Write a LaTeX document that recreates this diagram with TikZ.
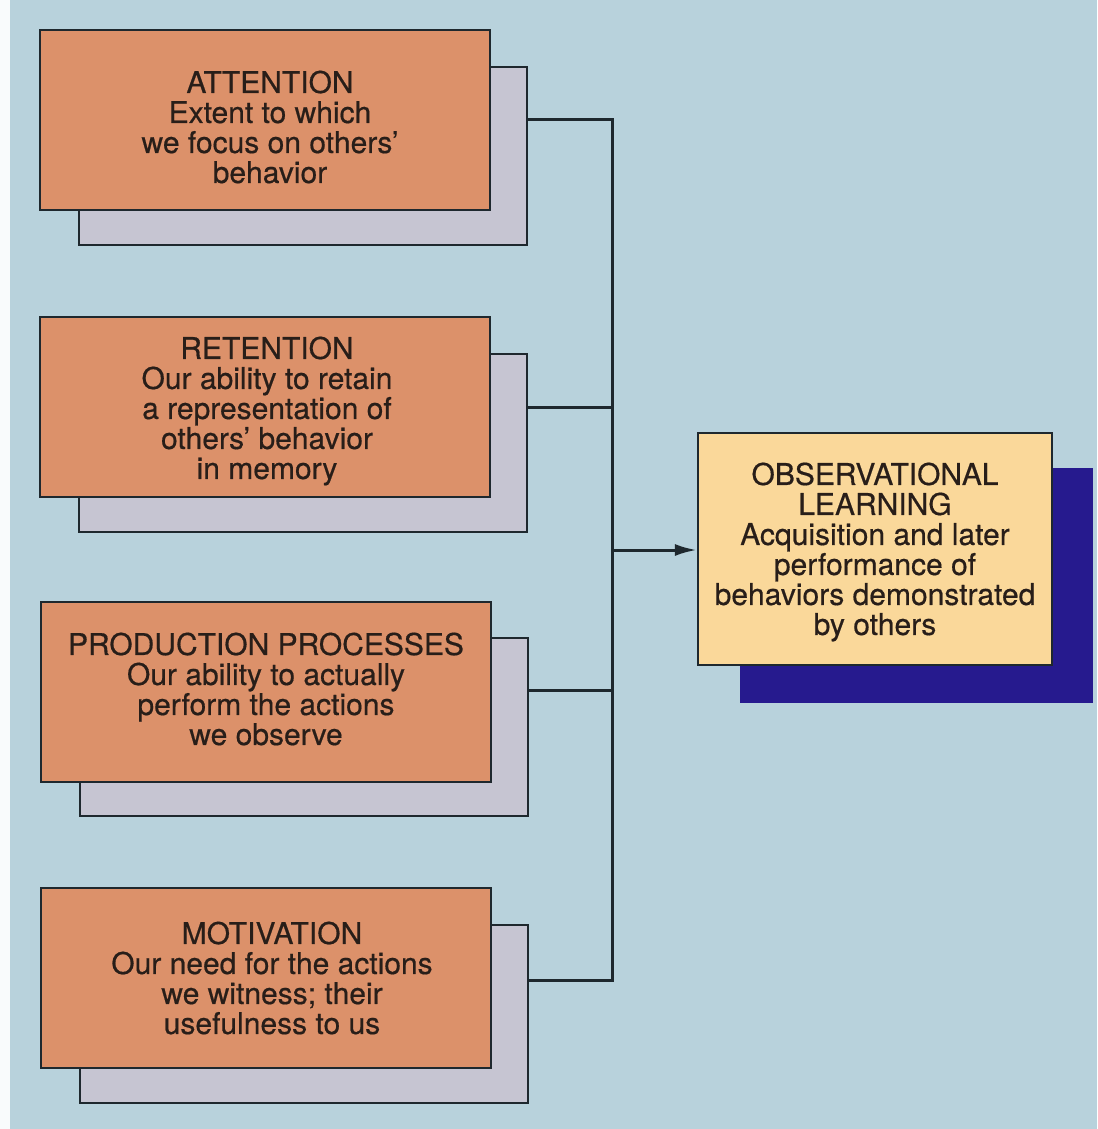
\documentclass[tikz,border=0pt]{standalone}
\usepackage{fontspec}
\setmainfont{TeX Gyre Heros}[FakeBold=0.5]
\usetikzlibrary{arrows.meta}
\definecolor{bgblue}{RGB}{184,210,220}
\definecolor{salmon}{RGB}{220,145,106}
\definecolor{backgray}{RGB}{198,197,210}
\definecolor{peach}{RGB}{250,216,154}
\definecolor{navy}{RGB}{38,26,142}
\definecolor{inkline}{RGB}{30,40,46}
\definecolor{inktext}{RGB}{40,30,25}
\tikzset{
  frontbox/.style={draw=inkline, line width=2.2pt, fill=salmon, minimum width=450pt, minimum height=180pt, inner sep=0pt},
  boxtext/.style={align=center, text=inktext, inner sep=0pt, font=\fontsize{30}{30}\selectfont},
  backbox/.style={draw=inkline, line width=2.2pt, fill=backgray, minimum width=448pt, minimum height=178pt, inner sep=0pt},
  obsbox/.style={draw=inkline, line width=2.2pt, fill=peach, minimum width=354pt, minimum height=232pt, inner sep=0pt},
  obsback/.style={draw=navy, line width=1pt, fill=navy, minimum width=352pt, minimum height=234pt, inner sep=0pt},
  conn/.style={draw=inkline, line width=3pt},
  arr/.style={conn, -{Latex[length=22pt,width=12pt]}}
}
\begin{document}
\begin{tikzpicture}[x=1pt,y=-1pt]
\useasboundingbox (0,0) rectangle (1097,1129);
\fill[bgblue] (0,0) rectangle (1097,1129);
\fill[white!92!bgblue] (0,0) rectangle (10,1129);

% back boxes
\node[backbox] (b1back) at (303,156) {};
\node[backbox] (b2back) at (303,443) {};
\node[backbox] (b3back) at (304,727) {};
\node[backbox] (b4back) at (304,1014) {};
\node[obsback] (obsb) at (916,585) {};

% front boxes
\node[frontbox] (att) at (265,120) {};
\node[frontbox] (ret) at (265,407) {};
\node[frontbox] (prod) at (266,692) {};
\node[frontbox] (mot) at (266,978) {};
\node[obsbox] (obs) at (875,549) {};

% texts
\node[boxtext] (att-t) at ([xshift=5pt,yshift=-7pt]att.center) {ATTENTION\\Extent to which\\we focus on others'\\behavior};
\node[boxtext] (ret-t) at ([xshift=2pt,yshift=-4pt]ret.center) {RETENTION\\Our ability to retain\\a representation of\\others' behavior\\in memory};
\node[boxtext] (prod-t) at ([yshift=3pt]prod.center) {PRODUCTION PROCESSES\\Our ability to actually\\perform the actions\\we observe};
\node[boxtext] (mot-t) at ([xshift=6pt]mot.center) {MOTIVATION\\Our need for the actions\\we witness; their\\usefulness to us};
\node[boxtext] (obs-t) at ([yshift=-3pt]obs.center) {OBSERVATIONAL\\LEARNING\\Acquisition and later\\performance of\\behaviors demonstrated\\by others};

% connectors
\coordinate (j1) at (612,120);
\coordinate (j2) at (612,407);
\coordinate (j3) at (612,690);
\coordinate (j4) at (612,980);
\coordinate (jm) at (612,550);
\draw[conn] (b1back.east |- j1) -- (j1) -- (j4) -- (b4back.east |- j4);
\draw[conn] (b2back.east |- j2) -- (j2);
\draw[conn] (b3back.east |- j3) -- (j3);
\draw[arr] (jm) -- (obs.west |- jm);
\end{tikzpicture}
\end{document}
